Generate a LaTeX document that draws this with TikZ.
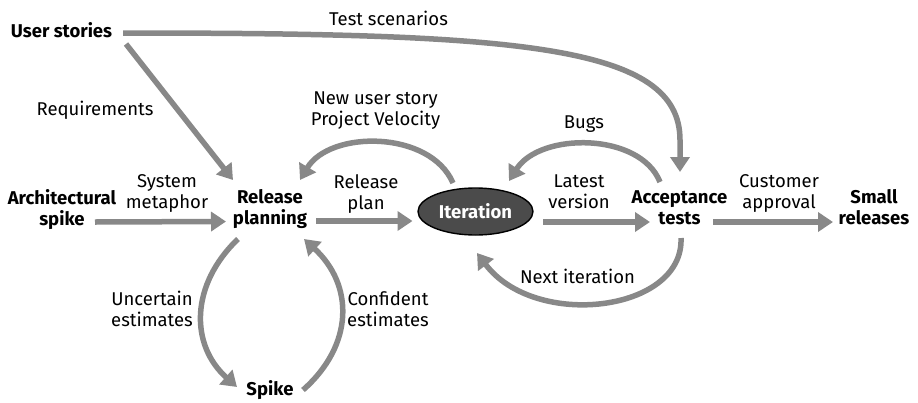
\documentclass[tikz,border=0pt]{standalone}
\usepackage{fontspec}
\setmainfont{Fira Sans}
\usetikzlibrary{arrows.meta,shapes.geometric}
\definecolor{arrowgray}{HTML}{888888}
\definecolor{ellfill}{HTML}{4B4B4B}
\begin{document}
\begin{tikzpicture}[x=1pt,y=-1pt,
  every node/.style={inner sep=0pt, outer sep=0pt},
  txt/.style={align=center, font=\fontsize{18.5}{21}\selectfont,
    execute at begin node=\strut, execute at end node=\strut},
  hd/.style={txt, font=\fontsize{18.5}{21}\selectfont\bfseries},
  lbl/.style={txt},
  flow/.style={draw=arrowgray, line width=5.5pt, -{Triangle[length=15pt,width=19pt]}},
  iter/.style={ellipse, draw=black, line width=1.4pt, fill=ellfill,
    minimum width=115pt, minimum height=47pt, text=white,
    font=\fontsize{18.5}{21}\selectfont\bfseries}
]
\useasboundingbox (0,0) rectangle (918,402);

% main nodes
\node[hd] (us) at (61.5,33) {User stories};
\node[hd] (as) at (62,210.5) {Architectural\\spike};
\node[hd] (rp) at (270,210) {Release\\planning};
\node[iter] (it) at (475.5,211.5) {Iteration};
\node[hd] (at) at (679.5,210.5) {Acceptance\\tests};
\node[hd] (sr) at (874,210.5) {Small\\releases};
\node[hd] (sp) at (270,391.3) {Spike};

% labels
\node[lbl] (lts) at (388.5,21) {Test scenarios};
\node[lbl] (lrq) at (95,111) {Requirements};
\node[lbl] (lnu) at (375.5,112) {New user story\\Project Velocity};
\node[lbl] (lsm) at (167,195) {System\\metaphor};
\node[lbl] (lrp) at (366,195) {Release\\plan};
\node[lbl] (llv) at (579,195) {Latest\\version};
\node[lbl] (lca) at (779,195) {Customer\\approval};
\node[lbl] (lbg) at (584,124) {Bugs};
\node[lbl] (lni) at (577.5,279) {Next iteration};
\node[lbl] (lue) at (152,312) {Uncertain\\estimates};
\node[lbl] (lce) at (388,312) {Confident\\estimates};

% straight flows
\draw[flow] ([shift={(33,11.5)}]as.center) -- ([shift={(-44,11.5)}]rp.center);
\draw[flow] ([shift={(46,11)}]rp.center) -- ([shift={(-63,9.5)}]it.center);
\draw[flow] ([shift={(67.5,10.5)}]it.center) -- ([shift={(-29.5,11.5)}]at.center);
\draw[flow] ([shift={(33.5,11.5)}]at.center) -- ([shift={(-41,11.5)}]sr.center);
\draw[flow] ([shift={(64.5,11)}]us.center) -- ([shift={(-37,-30)}]rp.center);

% test scenarios
\draw[flow] ([shift={(61.5,0)}]us.center) .. controls (520,33) and (680,45) .. (680,140)
  -- ([shift={(0.5,-38.5)}]at.center);

% feedback loops
\draw[flow] ([shift={(-22.5,-28.5)}]it.center) .. controls (430,130) and (330,130) .. ([shift={(30,-30)}]rp.center);
\draw[flow] ([shift={(-19.5,-28.5)}]at.center) .. controls (640,132) and (540,132) .. ([shift={(33.5,-30.5)}]it.center);
\draw[flow] ([shift={(1.5,27.5)}]at.center) .. controls (684,312) and (535,330) .. ([shift={(1.5,41.5)}]it.center);

% spike loop
\draw[flow] ([shift={(-32,29)}]rp.center) .. controls (190,285) and (190,345) .. ([shift={(-33,-4.3)}]sp.center);
\draw[flow] ([shift={(33,-1.3)}]sp.center) .. controls (354,345) and (354,285) .. ([shift={(34,29)}]rp.center);
\end{tikzpicture}
\end{document}
